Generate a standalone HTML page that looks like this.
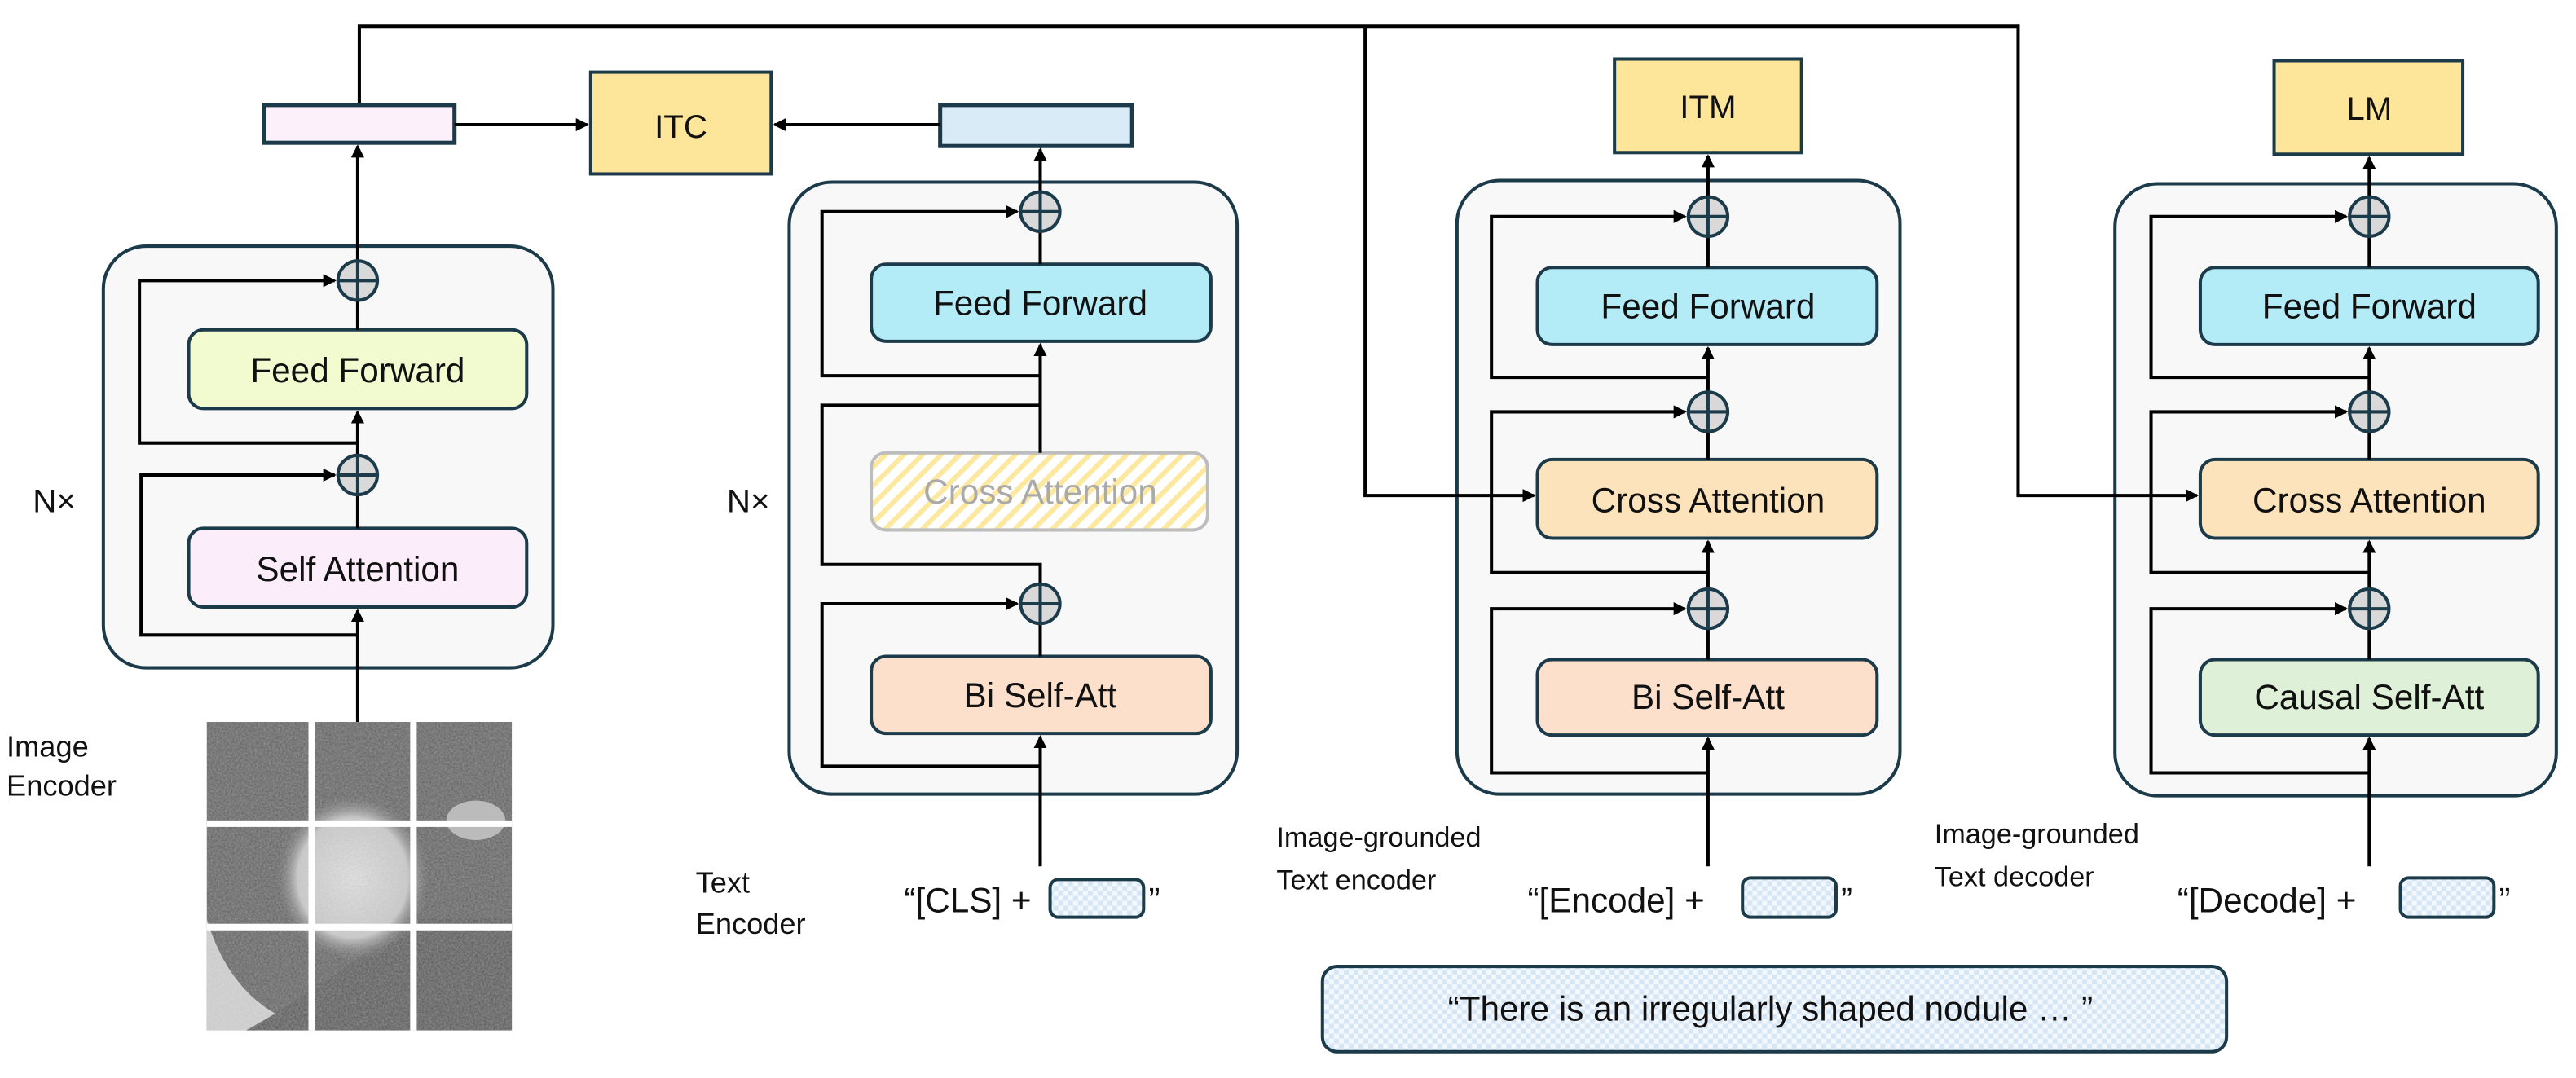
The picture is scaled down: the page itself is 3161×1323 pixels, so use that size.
<!DOCTYPE html>
<html><head><meta charset="utf-8">
<style>
html,body{margin:0;padding:0;background:#fff;}
svg{display:block;}
text{font-family:"Liberation Sans",sans-serif;fill:#111;}
</style></head>
<body>
<svg width="3161" height="1323" viewBox="0 0 1570 657" preserveAspectRatio="none" xmlns="http://www.w3.org/2000/svg">
<defs>
<marker id="ah" markerWidth="8" markerHeight="8" refX="7" refY="4" orient="auto" markerUnits="userSpaceOnUse">
<path d="M0,0 L8,4 L0,8 z" fill="#000"/>
</marker>
<pattern id="hatch" width="8" height="8" patternUnits="userSpaceOnUse" patternTransform="rotate(45)">
<rect width="8" height="8" fill="#fff"/>
<rect width="3" height="8" fill="#fde8a0"/>
</pattern>
<pattern id="chk" width="6" height="6" patternUnits="userSpaceOnUse">
<rect width="6" height="6" fill="#f3f8fd"/>
<rect width="3" height="3" fill="#d6e6f5"/>
<rect x="3" y="3" width="3" height="3" fill="#d6e6f5"/>
</pattern>
<filter id="noise" x="0" y="0" width="100%" height="100%">
<feTurbulence type="fractalNoise" baseFrequency="0.9" numOctaves="2" seed="3"/>
<feColorMatrix type="matrix" values="0 0 0 0 0.5  0 0 0 0 0.5  0 0 0 0 0.5  0 0 0 0.6 0"/>
</filter>
<radialGradient id="blob" cx="0.5" cy="0.5" r="0.5">
<stop offset="0" stop-color="#e8e8e8"/><stop offset="0.7" stop-color="#cfcfcf"/><stop offset="1" stop-color="#5a5a5a" stop-opacity="0"/>
</radialGradient>
<clipPath id="imgclip"><rect x="126" y="440" width="186" height="188"/></clipPath>
</defs>

<g stroke="#000" stroke-width="2" fill="none">
<polyline points="219,65 219,16 1230,16 1230,302"/>
<polyline points="832,16 832,302"/>
</g>

<!-- ITC -->
<rect x="360" y="44" width="110" height="62" fill="#fde69a" stroke="#1c3b4a" stroke-width="2"/>
<text x="415" y="84" font-size="20" text-anchor="middle">ITC</text>
<rect x="161" y="64" width="116" height="23" fill="#fcf0fb" stroke="#1c3b4a" stroke-width="2.5"/>
<rect x="573" y="64" width="117" height="25" fill="#d8ebf7" stroke="#1c3b4a" stroke-width="2.5"/>
<g stroke="#000" stroke-width="2" fill="none">
<line x1="277" y1="76" x2="358" y2="76" marker-end="url(#ah)"/>
<line x1="573" y1="76" x2="472" y2="76" marker-end="url(#ah)"/>
</g>

<!-- Image encoder block -->
<rect x="63" y="150" width="274" height="257" rx="26" fill="#f9f8f9" stroke="#1c3b4a" stroke-width="2"/>
<rect x="115" y="201" width="206" height="48" rx="9" fill="#f2facf" stroke="#1c3b4a" stroke-width="2"/>
<text x="218" y="233" font-size="21" text-anchor="middle">Feed Forward</text>
<rect x="115" y="322" width="206" height="48" rx="9" fill="#fbeefa" stroke="#1c3b4a" stroke-width="2"/>
<text x="218" y="354" font-size="21" text-anchor="middle">Self Attention</text>
<g stroke="#000" stroke-width="2" fill="none">
<line x1="218" y1="440" x2="218" y2="372" marker-end="url(#ah)"/>
<polyline points="218,387 86,387 86,289.5 204,289.5" marker-end="url(#ah)"/>
<line x1="218" y1="322" x2="218" y2="302"/>
<line x1="218" y1="277" x2="218" y2="251" marker-end="url(#ah)"/>
<polyline points="218,270 85,270 85,171 204,171" marker-end="url(#ah)"/>
<line x1="218" y1="201" x2="218" y2="183"/>
<line x1="218" y1="159" x2="218" y2="89" marker-end="url(#ah)"/>
</g>
<g id="p1"><ellipse cx="218" cy="171" rx="12" ry="12" fill="#d9d9d9" stroke="#1c3b4a" stroke-width="2"/><line x1="206" y1="171" x2="230" y2="171" stroke="#1c3b4a" stroke-width="2"/><line x1="218" y1="159" x2="218" y2="183" stroke="#1c3b4a" stroke-width="2"/></g>
<use href="#p1" transform="translate(0,118.5)"/>
<text x="20" y="312" font-size="20">N×</text>
<text x="4" y="461" font-size="18">Image</text>
<text x="4" y="485" font-size="18">Encoder</text>

<!-- CT image -->
<g clip-path="url(#imgclip)">
<rect x="126" y="440" width="186" height="188" fill="#5e5e5e"/>
<path d="M126,560 Q150,640 240,628 L126,628 Z" fill="#d8d8d8"/>
<path d="M150,628 Q200,600 250,560 L312,560 L312,628 Z" fill="#555"/>
<ellipse cx="215" cy="535" rx="48" ry="52" fill="url(#blob)"/>
<ellipse cx="290" cy="500" rx="18" ry="12" fill="#bbb"/>
<rect x="126" y="440" width="186" height="188" filter="url(#noise)"/>
<rect x="188" y="440" width="4" height="188" fill="#fff"/>
<rect x="250" y="440" width="4" height="188" fill="#fff"/>
<rect x="126" y="500" width="186" height="4" fill="#fff"/>
<rect x="126" y="563" width="186" height="4" fill="#fff"/>
</g>

<!-- Text encoder block -->
<rect x="481" y="111" width="273" height="373" rx="26" fill="#f9f8f9" stroke="#1c3b4a" stroke-width="2"/>
<rect x="531" y="161" width="207" height="47" rx="9" fill="#b3ebf7" stroke="#1c3b4a" stroke-width="2"/>
<text x="634" y="192" font-size="21" text-anchor="middle">Feed Forward</text>
<rect x="531" y="276" width="205" height="47" rx="9" fill="url(#hatch)" stroke="#bdbdbd" stroke-width="2"/>
<text x="634" y="307" font-size="21" text-anchor="middle" style="fill:#aaa">Cross Attention</text>
<rect x="531" y="400" width="207" height="47" rx="9" fill="#fde0cc" stroke="#1c3b4a" stroke-width="2"/>
<text x="634" y="431" font-size="21" text-anchor="middle">Bi Self-Att</text>
<g stroke="#000" stroke-width="2" fill="none">
<line x1="634" y1="528" x2="634" y2="449" marker-end="url(#ah)"/>
<polyline points="634,467 501,467 501,368 620,368" marker-end="url(#ah)"/>
<line x1="634" y1="400" x2="634" y2="380"/>
<polyline points="634,356 634,344 501,344 501,247 634,247"/>
<line x1="634" y1="276" x2="634" y2="210" marker-end="url(#ah)"/>
<polyline points="634,229 501,229 501,129 620,129" marker-end="url(#ah)"/>
<line x1="634" y1="161" x2="634" y2="141"/>
<line x1="634" y1="117" x2="634" y2="91" marker-end="url(#ah)"/>
</g>
<use href="#p1" transform="translate(416,-42)"/>
<use href="#p1" transform="translate(416,197)"/>
<text x="443" y="312" font-size="20">N×</text>
<text x="424" y="544" font-size="18">Text</text>
<text x="424" y="569" font-size="18">Encoder</text>
<text x="551" y="556" font-size="21">“[CLS] +</text>
<rect x="640" y="536" width="57" height="23" rx="5" fill="url(#chk)" stroke="#1c3b4a" stroke-width="2"/>
<text x="700" y="556" font-size="21">”</text>

<!-- ITM block -->
<rect x="984" y="36" width="114" height="57" fill="#fde69a" stroke="#1c3b4a" stroke-width="2"/>
<text x="1041" y="72" font-size="20" text-anchor="middle">ITM</text>
<rect x="888" y="110" width="270" height="374" rx="26" fill="#f9f8f9" stroke="#1c3b4a" stroke-width="2"/>
<rect x="937" y="163" width="207" height="47" rx="9" fill="#b3ebf7" stroke="#1c3b4a" stroke-width="2"/>
<text x="1041" y="194" font-size="21" text-anchor="middle">Feed Forward</text>
<rect x="937" y="280" width="207" height="48" rx="9" fill="#fde3bb" stroke="#1c3b4a" stroke-width="2"/>
<text x="1041" y="312" font-size="21" text-anchor="middle">Cross Attention</text>
<rect x="937" y="402" width="207" height="46" rx="9" fill="#fde0cc" stroke="#1c3b4a" stroke-width="2"/>
<text x="1041" y="432" font-size="21" text-anchor="middle">Bi Self-Att</text>
<g stroke="#000" stroke-width="2" fill="none">
<line x1="1041" y1="528" x2="1041" y2="450" marker-end="url(#ah)"/>
<polyline points="1041,471 909,471 909,371 1027,371" marker-end="url(#ah)"/>
<line x1="1041" y1="402" x2="1041" y2="383"/>
<line x1="1041" y1="359" x2="1041" y2="330" marker-end="url(#ah)"/>
<polyline points="1041,349 909,349 909,251 1027,251" marker-end="url(#ah)"/>
<line x1="1041" y1="280" x2="1041" y2="263"/>
<line x1="1041" y1="239" x2="1041" y2="212" marker-end="url(#ah)"/>
<polyline points="1041,230 909,230 909,132 1027,132" marker-end="url(#ah)"/>
<line x1="1041" y1="163" x2="1041" y2="144"/>
<line x1="1041" y1="120" x2="1041" y2="95" marker-end="url(#ah)"/>
</g>
<use href="#p1" transform="translate(823,-39)"/>
<use href="#p1" transform="translate(823,80)"/>
<use href="#p1" transform="translate(823,200)"/>
<text x="778" y="516" font-size="17">Image-grounded</text>
<text x="778" y="542" font-size="17">Text encoder</text>
<text x="931" y="556" font-size="21">“[Encode] +</text>
<rect x="1062" y="535" width="57" height="24" rx="5" fill="url(#chk)" stroke="#1c3b4a" stroke-width="2"/>
<text x="1122" y="556" font-size="21">”</text>

<!-- LM block -->
<rect x="1386" y="37" width="115" height="57" fill="#fde69a" stroke="#1c3b4a" stroke-width="2"/>
<text x="1444" y="73" font-size="20" text-anchor="middle">LM</text>
<rect x="1289" y="112" width="269" height="373" rx="26" fill="#f9f8f9" stroke="#1c3b4a" stroke-width="2"/>
<rect x="1341" y="163" width="206" height="47" rx="9" fill="#b3ebf7" stroke="#1c3b4a" stroke-width="2"/>
<text x="1444" y="194" font-size="21" text-anchor="middle">Feed Forward</text>
<rect x="1341" y="280" width="206" height="48" rx="9" fill="#fde3bb" stroke="#1c3b4a" stroke-width="2"/>
<text x="1444" y="312" font-size="21" text-anchor="middle">Cross Attention</text>
<rect x="1341" y="402" width="206" height="46" rx="9" fill="#dff0d8" stroke="#1c3b4a" stroke-width="2"/>
<text x="1444" y="432" font-size="21" text-anchor="middle">Causal Self-Att</text>
<g stroke="#000" stroke-width="2" fill="none">
<line x1="1444" y1="528" x2="1444" y2="450" marker-end="url(#ah)"/>
<polyline points="1444,471 1311,471 1311,371 1430,371" marker-end="url(#ah)"/>
<line x1="1444" y1="402" x2="1444" y2="383"/>
<line x1="1444" y1="359" x2="1444" y2="330" marker-end="url(#ah)"/>
<polyline points="1444,349 1311,349 1311,251 1430,251" marker-end="url(#ah)"/>
<line x1="1444" y1="280" x2="1444" y2="263"/>
<line x1="1444" y1="239" x2="1444" y2="212" marker-end="url(#ah)"/>
<polyline points="1444,230 1311,230 1311,132 1430,132" marker-end="url(#ah)"/>
<line x1="1444" y1="163" x2="1444" y2="144"/>
<line x1="1444" y1="120" x2="1444" y2="96" marker-end="url(#ah)"/>
</g>
<use href="#p1" transform="translate(1226,-39)"/>
<use href="#p1" transform="translate(1226,80)"/>
<use href="#p1" transform="translate(1226,200)"/>
<text x="1179" y="514" font-size="17">Image-grounded</text>
<text x="1179" y="540" font-size="17">Text decoder</text>
<text x="1327" y="556" font-size="21">“[Decode] +</text>
<rect x="1463" y="535" width="57" height="24" rx="5" fill="url(#chk)" stroke="#1c3b4a" stroke-width="2"/>
<text x="1523" y="556" font-size="21">”</text>

<!-- cross-attention inputs drawn on top -->
<g stroke="#000" stroke-width="2" fill="none">
<line x1="831" y1="302" x2="935" y2="302" marker-end="url(#ah)"/>
<line x1="1229" y1="302" x2="1339" y2="302" marker-end="url(#ah)"/>
</g>

<!-- bottom caption box -->
<rect x="806" y="589" width="551" height="52" rx="9" fill="url(#chk)" stroke="#1c3b4a" stroke-width="2"/>
<text x="1079" y="622" font-size="21" text-anchor="middle">“There is an irregularly shaped nodule … ”</text>
</svg>
</body></html>
